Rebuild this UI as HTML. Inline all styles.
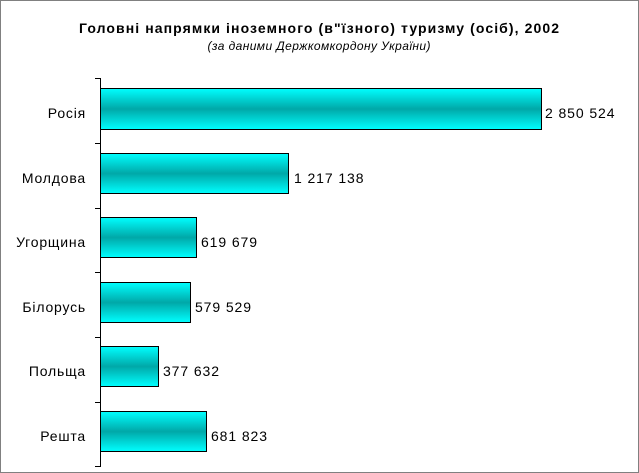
<!DOCTYPE html>
<html><head><meta charset="utf-8"><style>
body{margin:0;background:#fff}
svg{display:block}
text{font-family:"Liberation Sans",Arial,sans-serif}
</style></head><body>
<svg width="639" height="473" viewBox="0 0 639 473">
<defs>
<linearGradient id="g" x1="0" y1="0" x2="0" y2="1">
<stop offset="0" stop-color="#00ffff"/>
<stop offset="0.5" stop-color="#00a8a8"/>
<stop offset="1" stop-color="#00ffff"/>
</linearGradient>
</defs>
<rect x="0.5" y="0.5" width="638" height="472" fill="#fff" stroke="#808080"/>
<text x="319" y="33" text-anchor="middle" font-size="14" font-weight="bold" textLength="480" lengthAdjust="spacing">Головні напрямки іноземного (в"їзного) туризму (осіб), 2002</text>
<text x="319" y="50" text-anchor="middle" font-size="12" font-style="italic" textLength="223" lengthAdjust="spacing">(за даними Держкомкордону України)</text>
<g stroke="#000" stroke-width="1">
<line x1="100.5" y1="78" x2="100.5" y2="467"/>
<line x1="95" y1="78.5" x2="100" y2="78.5"/>
<line x1="95" y1="143.5" x2="100" y2="143.5"/>
<line x1="95" y1="208.5" x2="100" y2="208.5"/>
<line x1="95" y1="272.5" x2="100" y2="272.5"/>
<line x1="95" y1="337.5" x2="100" y2="337.5"/>
<line x1="95" y1="402.5" x2="100" y2="402.5"/>
<line x1="95" y1="466.5" x2="100" y2="466.5"/>
</g>
<g fill="url(#g)" stroke="#000" stroke-width="1">
<rect x="100.5" y="88.5" width="441" height="41"/>
<rect x="100.5" y="153.5" width="188" height="40"/>
<rect x="100.5" y="217.5" width="96" height="40"/>
<rect x="100.5" y="282.5" width="90" height="40"/>
<rect x="100.5" y="346.5" width="58" height="40"/>
<rect x="100.5" y="411.5" width="106" height="40"/>
</g>
<g font-size="14" text-anchor="end" letter-spacing="0.8">
<text x="86" y="118">Росія</text>
<text x="86" y="183">Молдова</text>
<text x="86" y="247">Угорщина</text>
<text x="86" y="312">Білорусь</text>
<text x="86" y="376">Польща</text>
<text x="86" y="441">Решта</text>
</g>
<g font-size="14" letter-spacing="0.9">
<text x="545" y="118">2 850 524</text>
<text x="294" y="183">1 217 138</text>
<text x="201" y="247">619 679</text>
<text x="195" y="312">579 529</text>
<text x="163" y="376">377 632</text>
<text x="211" y="441">681 823</text>
</g>
</svg>
</body></html>
